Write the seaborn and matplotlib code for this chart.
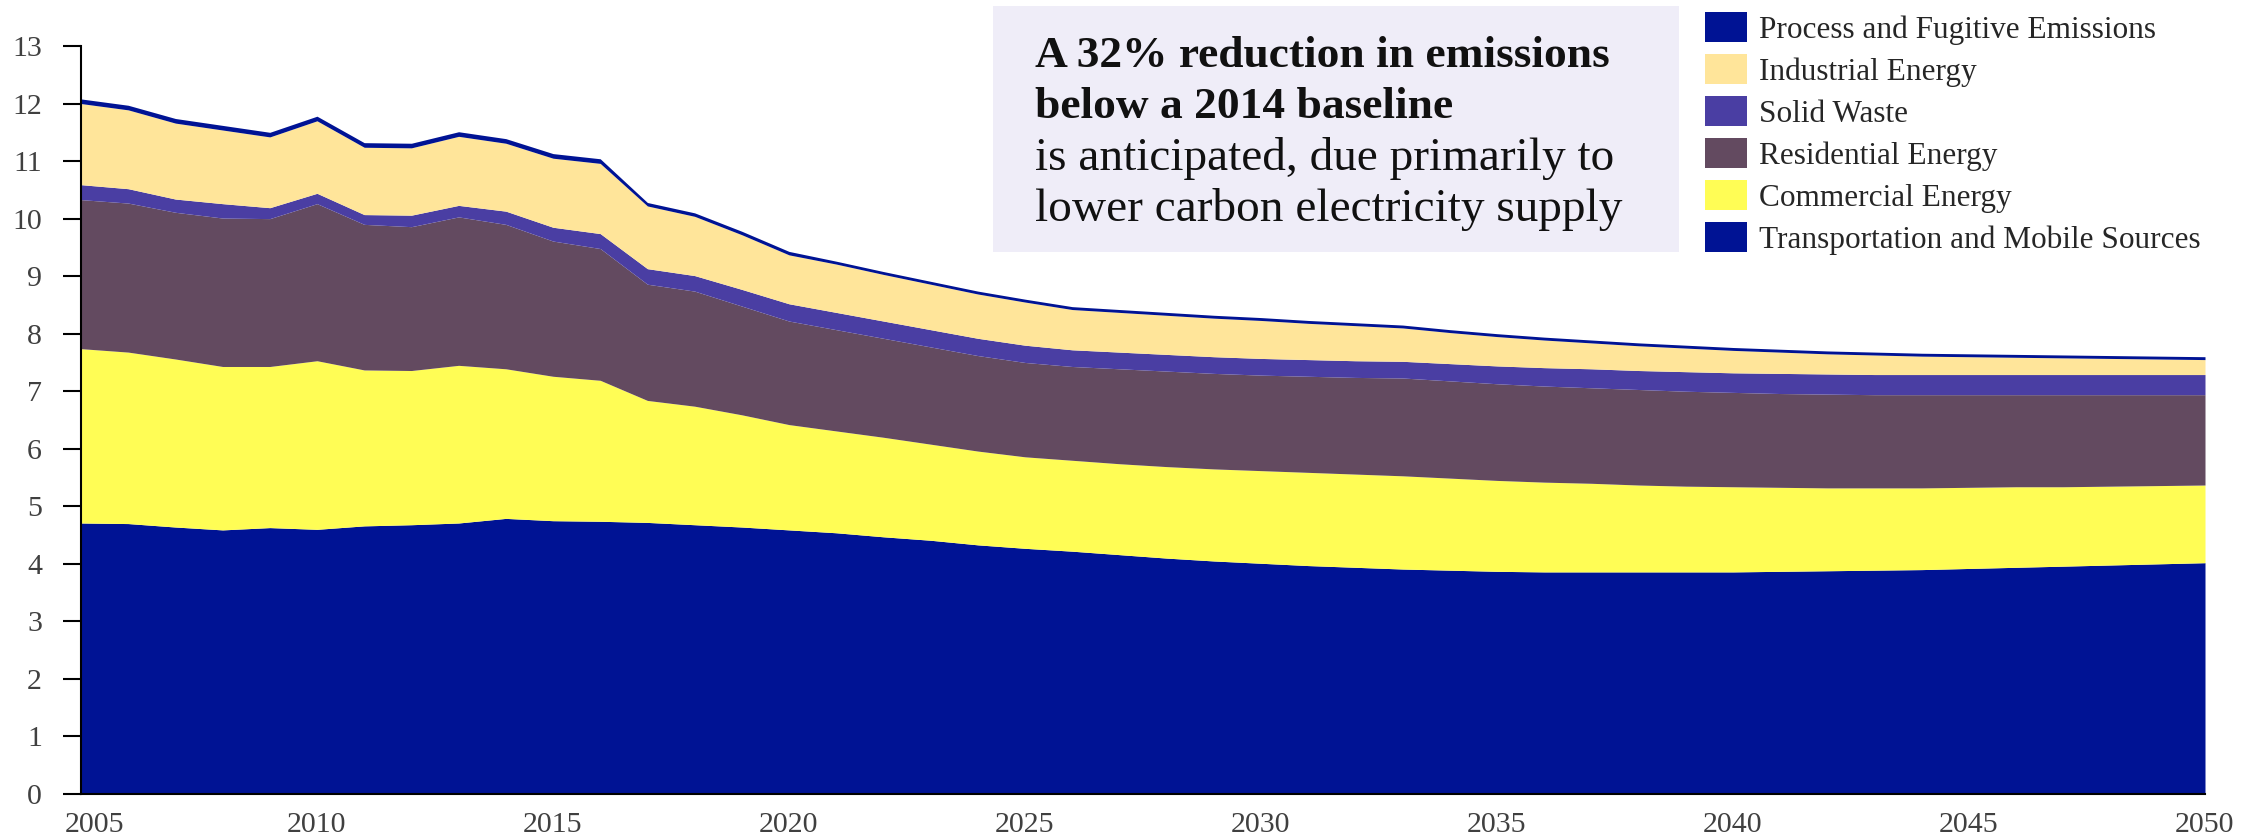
import matplotlib
matplotlib.use("Agg")
import matplotlib.pyplot as plt
import matplotlib.transforms as mtransforms
from matplotlib.patches import Rectangle
import pandas as pd
import seaborn as sns

# Emissions by sector, 2005-2050
years = list(range(2005, 2051))

transportation = [4.71, 4.70, 4.64, 4.59, 4.63, 4.60, 4.66, 4.68, 4.71, 4.79, 4.75, 4.74, 4.72, 4.68, 4.64, 4.59,
                  4.54, 4.47, 4.41, 4.33, 4.27, 4.22, 4.16, 4.10, 4.05, 4.01,
                  3.97, 3.94, 3.91, 3.89, 3.87, 3.86, 3.86, 3.86, 3.86, 3.86,
                  3.87, 3.88, 3.89, 3.90, 3.92, 3.94, 3.96, 3.98, 4.00, 4.02]
commercial = [3.03, 2.98, 2.92, 2.84, 2.80, 2.93, 2.71, 2.68, 2.74, 2.60, 2.51, 2.45, 2.12, 2.06, 1.95, 1.83,
              1.77, 1.73, 1.67, 1.63, 1.59, 1.58, 1.58, 1.59, 1.60, 1.61,
              1.62, 1.62, 1.62, 1.60, 1.58, 1.56, 1.54, 1.51, 1.49, 1.48,
              1.46, 1.44, 1.43, 1.42, 1.41, 1.40, 1.38, 1.37, 1.36, 1.35]
residential = [2.59, 2.59, 2.55, 2.58, 2.57, 2.73, 2.53, 2.50, 2.58, 2.51, 2.35, 2.29, 2.02, 2.00, 1.89, 1.80,
               1.76, 1.72, 1.69, 1.66, 1.64, 1.63, 1.65, 1.66, 1.66, 1.66,
               1.67, 1.68, 1.70, 1.69, 1.68, 1.67, 1.66, 1.66, 1.65, 1.64,
               1.63, 1.63, 1.62, 1.62, 1.61, 1.60, 1.60, 1.59, 1.58, 1.57]
solid_waste = [0.26, 0.25, 0.23, 0.25, 0.19, 0.18, 0.17, 0.20, 0.20, 0.23, 0.24, 0.26, 0.27, 0.27, 0.29, 0.30,
               0.30, 0.30, 0.30, 0.30, 0.30, 0.29, 0.29, 0.29, 0.29, 0.29,
               0.29, 0.29, 0.29, 0.30, 0.31, 0.32, 0.33, 0.33, 0.34, 0.34,
               0.35, 0.35, 0.35, 0.35, 0.35, 0.35, 0.35, 0.35, 0.35, 0.35]
industrial = [1.41, 1.37, 1.32, 1.28, 1.23, 1.26, 1.17, 1.17, 1.20, 1.18, 1.20, 1.22, 1.09, 1.03, 0.95, 0.85,
              0.84, 0.81, 0.79, 0.77, 0.75, 0.70, 0.69, 0.68, 0.67, 0.66,
              0.63, 0.61, 0.58, 0.54, 0.51, 0.48, 0.45, 0.43, 0.41, 0.39,
              0.37, 0.35, 0.34, 0.32, 0.31, 0.30, 0.29, 0.28, 0.27, 0.26]
process = [0.08, 0.08, 0.08, 0.08, 0.08, 0.08, 0.08, 0.08, 0.08, 0.08, 0.08, 0.08, 0.06, 0.06, 0.06, 0.06,
           0.05, 0.05, 0.05, 0.05, 0.05, 0.05, 0.05, 0.05, 0.05, 0.05,
           0.05, 0.05, 0.05, 0.05, 0.05, 0.05, 0.05, 0.05, 0.05, 0.05,
           0.05, 0.05, 0.05, 0.05, 0.05, 0.05, 0.05, 0.05, 0.05, 0.05]

sectors = ["Transportation and Mobile Sources", "Commercial Energy", "Residential Energy",
           "Solid Waste", "Industrial Energy", "Process and Fugitive Emissions"]
colors = ["#001394", "#FFFD55", "#634A60", "#4A3EA3", "#FFE59A", "#001394"]

df = pd.DataFrame({"Year": years,
                   sectors[0]: transportation,
                   sectors[1]: commercial,
                   sectors[2]: residential,
                   sectors[3]: solid_waste,
                   sectors[4]: industrial,
                   sectors[5]: process})

sns.set_theme(style="white")
plt.rcParams['font.family'] = ['Liberation Serif', 'DejaVu Serif']

fig = plt.figure(figsize=(22.6, 8.36), dpi=100)
ax = fig.add_axes([81 / 2260, 1 - 794 / 836, (2205 - 81) / 2260, (794 - 46) / 836])

ax.stackplot(df["Year"], df[sectors].T.values, colors=colors, labels=sectors, linewidth=0)

ax.set_xlim(2005, 2050)
ax.set_ylim(0, 13)
ax.set_xticks(range(2005, 2051, 5))
ax.set_yticks(range(0, 14))
ax.tick_params(axis="y", length=13, width=1.5, color="black", pad=15, labelsize=21.5, labelcolor="#404040", left=True)
ax.tick_params(axis="x", length=0, pad=13, labelsize=21.5, labelcolor="#404040")
sns.despine(ax=ax)
for side in ["left", "bottom"]:
    ax.spines[side].set_color("black")
    ax.spines[side].set_linewidth(1.5)

# nudge the first year label right like the original
first = ax.get_xticklabels()[0]
first.set_transform(first.get_transform() + mtransforms.ScaledTranslation(13 / 100, 0, fig.dpi_scale_trans))

# legend, top entry first
handles, labels = ax.get_legend_handles_labels()
leg = fig.legend(handles[::-1], labels[::-1], loc="upper left", bbox_to_anchor=(1705 / 2260, 1 - 12 / 836),
                 frameon=False, fontsize=22.5, borderpad=0, borderaxespad=0,
                 handlelength=1.34, handleheight=1.1, handletextpad=0.38, labelspacing=0.3)

# annotation box
fig.patches.append(Rectangle((993 / 2260, 1 - 252 / 836), (1679 - 993) / 2260, (252 - 6) / 836,
                             transform=fig.transFigure, facecolor="#EFEDF8", edgecolor="none", zorder=0))
lines = [("A 32% reduction in emissions", "bold", 32.7, 67),
         ("below a 2014 baseline", "bold", 32.7, 118),
         ("is anticipated, due primarily to", "normal", 34, 170),
         ("lower carbon electricity supply", "normal", 34, 221)]
for txt, weight, size, ypix in lines:
    fig.text(1035 / 2260, 1 - ypix / 836, txt, fontsize=size, fontweight=weight, color="#111111",
             va="baseline", ha="left")

fig.savefig("out.png", dpi=100)
